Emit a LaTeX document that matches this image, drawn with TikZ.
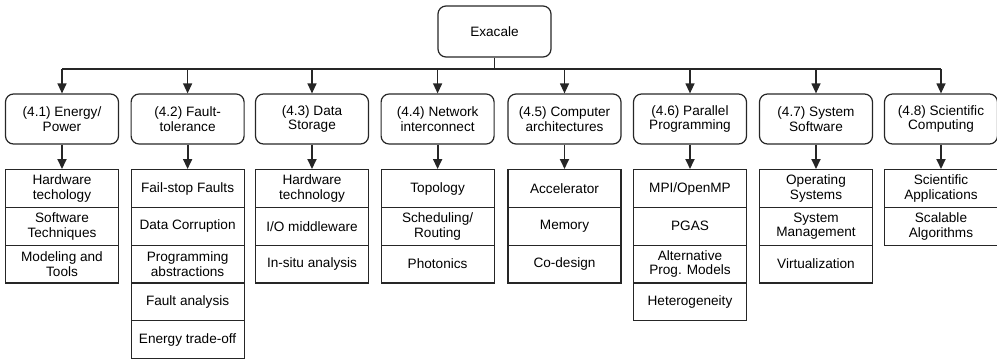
\documentclass[tikz,border=0pt]{standalone}
\usepackage{fontspec}
\setmainfont{Liberation Sans}
\usetikzlibrary{arrows.meta}
\begin{document}
\begin{tikzpicture}[x=1pt,y=-1pt,
  txt/.style={font=\fontsize{13.6}{14.4}\selectfont, text=black},
  cat/.style={txt, draw=black!85, line width=1.2pt, rounded corners=8pt, minimum width=113pt, minimum height=50pt, align=center, inner sep=0pt},
  sub/.style={txt, draw=black!85, line width=1.2pt, minimum width=113pt, minimum height=37.8pt, align=center, inner sep=0pt, anchor=north},
  arr/.style={-{Triangle[length=10pt,width=9pt]}, line width=1.2pt, draw=black!85},
  darr/.style={arr, line width=1.8pt},
  bus/.style={line width=1.2pt, draw=black!85}
]
\useasboundingbox (0,0) rectangle (997,360);

\node[cat, minimum width=113pt, minimum height=51pt] (ex) at (494.5,31.5) {Exacale};

\node[cat] (c1) at (62,119) {(4.1) Energy/\\Power};
\node[cat] (c2) at (187.6,119) {(4.2) Fault-\\tolerance};
\node[cat] (c3) at (312,119) {(4.3) Data\\Storage};
\node[cat] (c4) at (437.6,119) {(4.4) Network\\interconnect};
\node[cat] (c5) at (564.5,119) {(4.5) Computer\\architectures};
\node[cat] (c6) at (690,119) {(4.6) Parallel\\Programming};
\node[cat] (c7) at (816,119) {(4.7) System\\Software};
\node[cat] (c8) at (941,119) {(4.8) Scientific\\Computing};

\coordinate (busL) at (62,69);
\coordinate (busR) at (941,69);
\draw[bus] (busL) -- (busR);
\draw[bus] (ex.south) -- (ex.south |- busL);
\foreach \i in {1,...,8}{
  \draw[arr] (c\i.north |- busL) -- (c\i.north);
}

% column 1
\node[sub] (s1a) at (62,169) {Hardware\\techology};
\node[sub] (s1b) at (62,206.8) {Software\\Techniques};
\node[sub] (s1c) at (62,244.6) {Modeling and\\Tools};
% column 2
\node[sub] (s2a) at (187.6,169) {Fail-stop Faults};
\node[sub] (s2b) at (187.6,206.8) {Data Corruption};
\node[sub] (s2c) at (187.6,244.6) {Programming\\abstractions};
\node[sub] (s2d) at (187.6,282.4) {Fault analysis};
\node[sub] (s2e) at (187.6,320.2) {Energy trade-off};
% column 3
\node[sub] (s3a) at (312,169) {Hardware\\technology};
\node[sub] (s3b) at (312,206.8) {I/O middleware};
\node[sub] (s3c) at (312,244.6) {In-situ analysis};
% column 4
\node[sub] (s4a) at (437.6,169) {Topology};
\node[sub] (s4b) at (437.6,206.8) {Scheduling/\\Routing};
\node[sub] (s4c) at (437.6,244.6) {Photonics};
% column 5
\node[sub] (s5a) at (564.5,169) {Accelerator};
\node[sub] (s5b) at (564.5,206.8) {Memory};
\node[sub] (s5c) at (564.5,244.6) {Co-design};
% column 6
\node[sub] (s6a) at (690,169) {MPI/OpenMP};
\node[sub] (s6b) at (690,206.8) {PGAS};
\node[sub] (s6c) at (690,244.6) {Alternative\\Prog. Models};
\node[sub] (s6d) at (690,282.4) {Heterogeneity};
% column 7
\node[sub] (s7a) at (816,169) {Operating\\Systems};
\node[sub] (s7b) at (816,206.8) {System\\Management};
\node[sub] (s7c) at (816,244.6) {Virtualization};
% column 8
\node[sub] (s8a) at (941,169) {Scientific\\Applications};
\node[sub] (s8b) at (941,206.8) {Scalable\\Algorithms};

\foreach \i in {1,...,8}{
  \draw[darr] (c\i.south) -- (s\i a.north);
}
\end{tikzpicture}
\end{document}
